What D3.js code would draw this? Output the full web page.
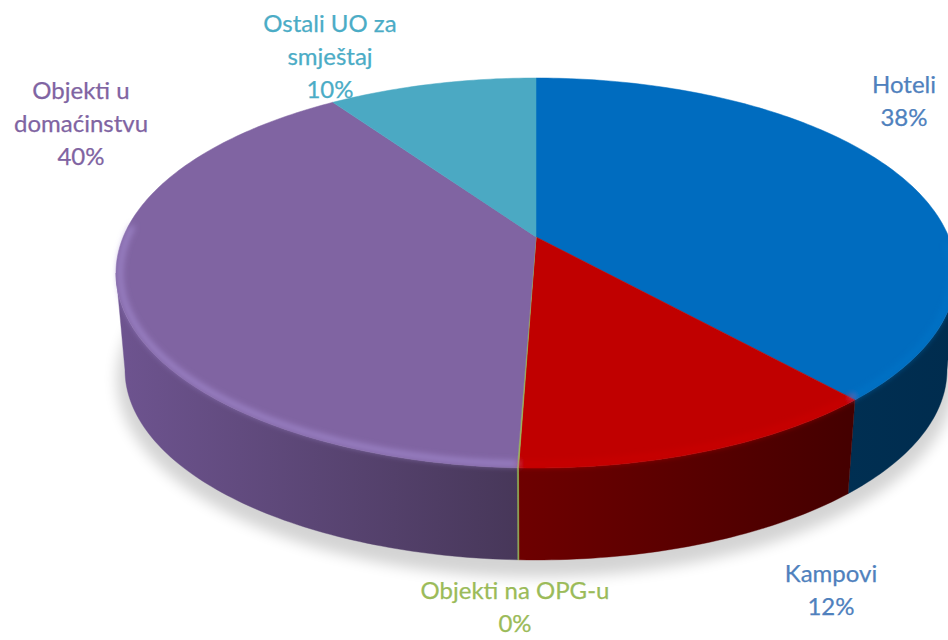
<!DOCTYPE html>
<html><head><meta charset="utf-8">
<style>html,body{margin:0;padding:0;background:#fff}svg{display:block}text{font-family:Lato,"Open Sans",sans-serif}</style>
<script src="https://cdn.jsdelivr.net/npm/d3@7"></script></head><body>
<svg id="c" width="948" height="640"></svg>
<script>
const categories = ["Hoteli","Kampovi","Objekti na OPG-u","Objekti u domaćinstvu","Ostali UO za smještaj"];
const shares = [38.4,12.15,0.05,39.8,9.6];
const topColors = ["#006cbf","#c00000","#9bbb59","#8064a2","#4ba9c3"];
const rimColors = ["#0674c8","#cc0606","#9bbb59","#a68ed4","#4ba9c3"];
const wallStart = ["#002f52","#6e0000","#8aa850","#6e5490","#3a8aa0"];
const wallEnd = ["#002c4e","#440000","#8aa850","#473759","#3a8aa0"];
const labelColors = ["#4f81bd","#4f81bd","#9bbb59","#8064a2","#4bacc6"];
const labelLines = [["Hoteli"],["Kampovi"],["Objekti na OPG-u"],["Objekti u","domaćinstvu"],["Ostali UO za","smještaj"]];
const labelPos = [[904,93],[831,582],[515,599],[81,99],[330,32]];

const W=948,H=640, persp=-0.185;
const topE={cx:536,cy:273,rx:420,ry:195};
const rimE={cx:536,cy:273,rx:416,ry:191};
const botE={cx:536,cy:370,rx:411,ry:190};
const svg=d3.select("#c");
const defs=svg.append("defs");
[["b8",7],["b2",3]].forEach(([id,s])=>defs.append("filter").attr("id",id)
  .attr("x","-20%").attr("y","-20%").attr("width","140%").attr("height","140%")
  .append("feGaussianBlur").attr("stdDeviation",s));
function P(a,e){const u=Math.sin(a),v=-Math.cos(a),k=Math.sqrt(1-persp*persp),d=1+persp*v;
  return [e.cx+e.rx*k*u/d, e.cy+e.ry*(v+persp)/d];}
const apex=[topE.cx,topE.cy+topE.ry*persp];
const line=d3.line();
const samples=(a0,a1,n=Math.max(2,Math.ceil((a1-a0)*60)))=>d3.range(n+1).map(i=>a0+(a1-a0)*i/n);
const arcs=d3.pie().sort(null)(shares);
const fA=Math.acos(persp), fB=2*Math.PI-fA;

// ground shadow
svg.append("ellipse").attr("cx",botE.cx).attr("cy",botE.cy+9).attr("rx",botE.rx+8).attr("ry",botE.ry+8)
  .attr("fill","#000").attr("opacity",.17).attr("filter","url(#b8)");

// walls
const gWall=svg.append("g");
arcs.forEach((d,i)=>{
  const a0=Math.max(d.startAngle,fA),a1=Math.min(d.endAngle,fB);
  if(a1<=a0)return;
  const s=samples(a0,a1);
  const pts=s.map(a=>P(a,topE)).concat(s.slice().reverse().map(a=>P(a,botE)));
  const xs=pts.map(p=>p[0]);
  const gid="w"+i;
  const g=defs.append("linearGradient").attr("id",gid).attr("gradientUnits","userSpaceOnUse")
    .attr("x1",d3.min(xs)-1).attr("x2",d3.max(xs)+1).attr("y1",0).attr("y2",0);
  g.append("stop").attr("offset",0).attr("stop-color",wallStart[i]);
  g.append("stop").attr("offset",1).attr("stop-color",wallEnd[i]);
  gWall.append("path").attr("d",line(pts)+"Z").attr("fill",`url(#${gid})`)
    .attr("stroke",`url(#${gid})`).attr("stroke-width",d.value<1?.6:.4);
});

// top faces
const gTop=svg.append("g");
arcs.forEach((d,i)=>{
  const pts=[apex].concat(samples(d.startAngle,d.endAngle).map(a=>P(a,topE)));
  gTop.append("path").attr("d",line(pts)+"Z").attr("fill",topColors[i])
    .attr("stroke",topColors[i]).attr("stroke-width",d.value<1?.7:.5);
});

// bevel
const gRim=svg.append("g").attr("filter","url(#b2)");
arcs.forEach((d,i)=>{
  const a0=Math.max(d.startAngle,fA-.15),a1=Math.min(d.endAngle,fB+.25);
  if(a1<=a0||d.value<1)return;
  gRim.append("path").attr("d",line(samples(a0,a1).map(a=>P(a,rimE))))
    .attr("fill","none").attr("stroke",rimColors[i]).attr("stroke-width",4);
});

// labels
const pct=d3.format(".0f");
const gLab=svg.append("g").attr("text-anchor","middle").attr("font-size",24);
arcs.forEach((d,i)=>{
  const t=gLab.append("text").attr("x",labelPos[i][0]).attr("y",labelPos[i][1]).attr("fill",labelColors[i])
    .attr("stroke",labelColors[i]).attr("stroke-width",.25);
  labelLines[i].concat([pct(d.value)+"%"]).forEach((s,j)=>
    t.append("tspan").attr("x",labelPos[i][0]).attr("dy",j?33:0).text(s));
});
</script></body></html>
